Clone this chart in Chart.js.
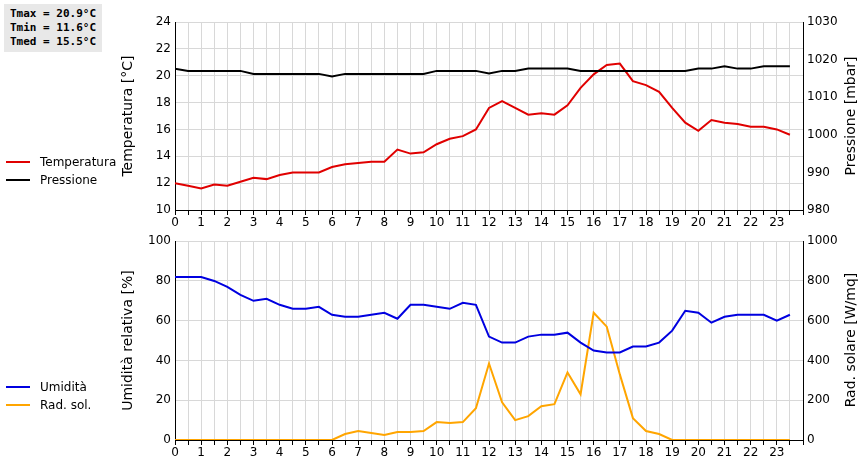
<!DOCTYPE html>
<html>
<head>
<meta charset="utf-8">
<script src="https://cdn.jsdelivr.net/npm/chart.js@4/dist/chart.umd.min.js"></script>
<style>
body { margin: 0; background: #fff; font-family: "DejaVu Sans", sans-serif; }
#wrap { position: relative; width: 860px; height: 460px; }
canvas { position: absolute; left: 0; }
.stats { position: absolute; left: 4px; top: 4px; background: #e8e8e8; padding: 3px 6px; font: bold 11px "DejaVu Sans Mono", monospace; line-height: 14px; }
.leg { position: absolute; left: 6px; font-size: 12px; }
.leg div { height: 18px; display: flex; align-items: center; }
.leg span { display: inline-block; width: 24px; height: 2px; margin-right: 10px; }
.rtitle { position: absolute; font-size: 14px; white-space: nowrap; transform: translate(-50%, -50%) rotate(-90deg); }
</style>
</head>
<body>
<div id="wrap">
  <canvas id="top" width="860" height="230" style="top:0"></canvas>
  <canvas id="bot" width="860" height="230" style="top:230px"></canvas>
  <div class="stats">Tmax = 20.9°C<br>Tmin = 11.6°C<br>Tmed = 15.5°C</div>
  <div class="rtitle" style="left:850px; top:116px">Pressione [mbar]</div>
  <div class="rtitle" style="left:850px; top:340px">Rad. solare [W/mq]</div>
  <div class="leg" style="top:153px">
    <div><span style="background:#e00000"></span>Temperatura</div>
    <div><span style="background:#000"></span>Pressione</div>
  </div>
  <div class="leg" style="top:378px">
    <div><span style="background:#0000e0"></span>Umidità</div>
    <div><span style="background:#ffa500"></span>Rad. sol.</div>
  </div>
</div>
<script>
const hours = [0,0.5,1,1.5,2,2.5,3,3.5,4,4.5,5,5.5,6,6.5,7,7.5,8,8.5,9,9.5,10,10.5,11,11.5,12,12.5,13,13.5,14,14.5,15,15.5,16,16.5,17,17.5,18,18.5,19,19.5,20,20.5,21,21.5,22,22.5,23,23.5];
const temperatura = [12.0,11.8,11.6,11.9,11.8,12.1,12.4,12.3,12.6,12.8,12.8,12.8,13.2,13.4,13.5,13.6,13.6,14.5,14.2,14.3,14.9,15.3,15.5,16.0,17.6,18.1,17.6,17.1,17.2,17.1,17.8,19.1,20.1,20.8,20.9,19.6,19.3,18.8,17.6,16.5,15.9,16.7,16.5,16.4,16.2,16.2,16.0,15.6];
const pressione = [1017.6,1017,1017,1017,1017,1017,1016.2,1016.2,1016.2,1016.2,1016.2,1016.2,1015.5,1016.2,1016.2,1016.2,1016.2,1016.2,1016.2,1016.2,1017,1017,1017,1017,1016.3,1017,1017,1017.6,1017.6,1017.6,1017.6,1017,1017,1017,1017,1017,1017,1017,1017,1017,1017.6,1017.6,1018.2,1017.6,1017.6,1018.2,1018.2,1018.2];
const umidita = [82,82,82,80,77,73,70,71,68,66,66,67,63,62,62,63,64,61,68,68,67,66,69,68,52,49,49,52,53,53,54,49,45,44,44,47,47,49,55,65,64,59,62,63,63,63,60,63];
const radSol = [0,0,0,0,0,0,0,0,0,0,0,0,0,30,45,35,25,40,40,45,90,85,90,160,385,190,100,120,170,180,340,230,640,570,330,110,45,30,0,0,0,0,0,0,0,0,0,0];

const pts = arr => arr.map((v, i) => ({ x: hours[i], y: v }));
const gridCol = '#d8d8d8';
const tickFont = { family: 'DejaVu Sans', size: 12 };

function xAxis() {
  return {
    type: 'linear', min: 0, max: 24,
    border: { color: '#000' },
    grid: { color: gridCol, drawTicks: true, tickLength: 5, tickColor: '#000' },
    ticks: { stepSize: 0.5, autoSkip: false, maxRotation: 0, color: '#000', font: tickFont, padding: 1,
      callback: v => (Number.isInteger(v) && v < 24) ? v : '' },
    afterFit: s => { s.height = 20; }
  };
}
function yAxis(pos, min, max, step, title, grid) {
  return {
    position: pos, min: min, max: max,
    border: { color: '#000' },
    grid: { display: grid, color: gridCol, drawTicks: false },
    ticks: { stepSize: step, color: '#000', font: tickFont, padding: 4, callback: v => String(v) },
    title: { display: pos === 'left', text: title, color: '#000', font: { family: 'DejaVu Sans', size: 14 }, padding: 0 },
    afterFit: s => { s.width = pos === 'left' ? 55 : 57; }
  };
}
function line(label, data, color, axis) {
  return { label: label, data: pts(data), borderColor: color, borderWidth: 2, pointRadius: 0, tension: 0, yAxisID: axis };
}
function opts(top, scales) {
  return {
    responsive: false, animation: false,
    layout: { padding: { left: 120, top: top, right: 0, bottom: 0 } },
    plugins: { legend: { display: false }, tooltip: { enabled: false } },
    scales: scales
  };
}

new Chart(document.getElementById('top'), {
  type: 'line',
  data: { datasets: [
    line('Pressione', pressione, '#000000', 'yp'),
    line('Temperatura', temperatura, '#e00000', 'y')
  ] },
  options: opts(22, {
    x: xAxis(),
    y: yAxis('left', 10, 24, 2, 'Temperatura [°C]', true),
    yp: yAxis('right', 980, 1030, 10, 'Pressione [mbar]', false)
  })
});

new Chart(document.getElementById('bot'), {
  type: 'line',
  data: { datasets: [
    line('Umidità', umidita, '#0000e0', 'y'),
    line('Rad. sol.', radSol, '#ffa500', 'yr')
  ] },
  options: opts(11, {
    x: xAxis(),
    y: yAxis('left', 0, 100, 20, 'Umidità relativa [%]', true),
    yr: yAxis('right', 0, 1000, 200, 'Rad. solare [W/mq]', false)
  })
});
</script>
</body>
</html>
